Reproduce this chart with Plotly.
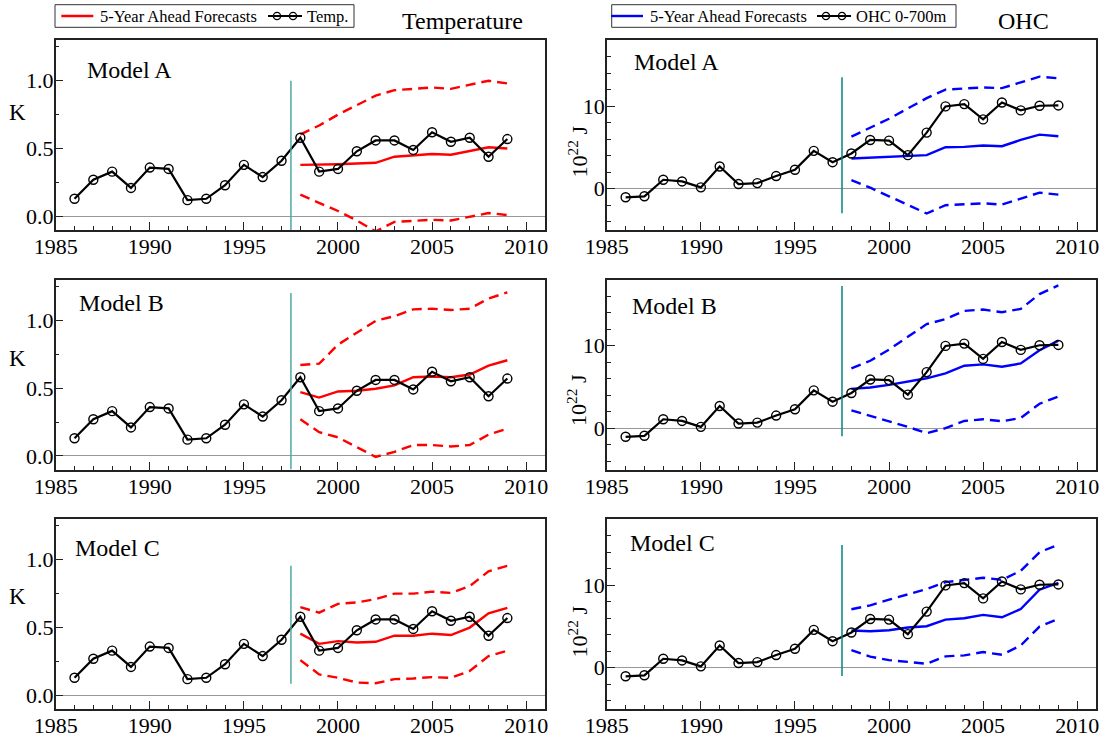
import plotly.graph_objects as go
from plotly.subplots import make_subplots

# ---- data -------------------------------------------------------------
years_obs = list(range(1986, 2010))
years_fc = list(range(1998, 2010))
models = ["Model A", "Model B", "Model C"]

temp_obs = [0.13, 0.27, 0.33, 0.21, 0.36, 0.35, 0.12, 0.13, 0.23, 0.38, 0.29, 0.41,
            0.58, 0.33, 0.35, 0.48, 0.56, 0.56, 0.49, 0.62, 0.55, 0.58, 0.44, 0.57]
ohc_obs = [-1.04, -0.92, 1.08, 0.88, 0.16, 2.69, 0.56, 0.68, 1.53, 2.29, 4.58, 3.21,
           4.26, 5.90, 5.82, 4.06, 6.79, 9.96, 10.24, 8.39, 10.44, 9.48, 10.04, 10.08]

# 5-year ahead temperature forecasts (K): central, upper, lower
temp_mid_a = [0.38, 0.38, 0.385, 0.39, 0.395, 0.44, 0.45, 0.46, 0.455, 0.48, 0.51, 0.50]
temp_up_a = [0.605, 0.67, 0.75, 0.82, 0.89, 0.93, 0.94, 0.95, 0.94, 0.97, 1.00, 0.98]
temp_lo_a = [0.16, 0.10, 0.04, -0.03, -0.11, -0.04, -0.03, -0.025, -0.03, -0.005, 0.025, 0.01]

temp_mid_b = [0.47, 0.43, 0.475, 0.48, 0.495, 0.52, 0.58, 0.585, 0.58, 0.60, 0.665, 0.705]
temp_up_b = [0.67, 0.68, 0.82, 0.905, 0.995, 1.03, 1.08, 1.085, 1.075, 1.085, 1.16, 1.205]
temp_lo_b = [0.27, 0.175, 0.137, 0.066, -0.007, 0.03, 0.08, 0.08, 0.07, 0.08, 0.157, 0.20]

temp_mid_c = [0.455, 0.38, 0.40, 0.39, 0.395, 0.44, 0.44, 0.455, 0.445, 0.50, 0.605, 0.645]
temp_up_c = [0.65, 0.61, 0.675, 0.685, 0.71, 0.75, 0.75, 0.765, 0.755, 0.805, 0.915, 0.955]
temp_lo_c = [0.26, 0.155, 0.13, 0.095, 0.09, 0.12, 0.125, 0.135, 0.13, 0.18, 0.29, 0.33]

# 5-year ahead ocean heat content forecasts (10^22 J)
ohc_mid_a = [3.65, 3.73, 3.82, 3.98, 4.06, 5.02, 5.06, 5.22, 5.14, 5.90, 6.55, 6.35]
ohc_up_a = [6.30, 7.43, 8.47, 9.72, 10.96, 12.00, 12.09, 12.25, 12.17, 12.90, 13.57, 13.37]
ohc_lo_a = [1.04, 0.12, -0.92, -1.93, -3.00, -2.00, -1.93, -1.77, -1.93, -1.24, -0.48, -0.72]

ohc_mid_b = [4.76, 4.92, 5.24, 5.64, 6.04, 6.64, 7.56, 7.72, 7.44, 7.84, 9.44, 10.60]
ohc_up_b = [7.24, 8.16, 9.52, 11.04, 12.60, 13.20, 14.20, 14.36, 14.04, 14.44, 16.24, 17.28]
ohc_lo_b = [2.16, 1.52, 0.80, 0.16, -0.60, 0.00, 0.88, 1.08, 0.84, 1.24, 2.96, 3.84]

ohc_mid_c = [4.50, 4.42, 4.54, 4.86, 5.02, 5.82, 5.98, 6.39, 6.10, 7.10, 9.44, 10.28]
ohc_up_c = [7.07, 7.55, 8.23, 8.92, 9.52, 10.36, 10.60, 10.88, 10.64, 11.73, 13.98, 14.90]
ohc_lo_c = [2.13, 1.33, 0.92, 0.68, 0.48, 1.37, 1.49, 1.89, 1.57, 2.69, 4.98, 5.90]

# start of the forecast period and vertical extent of its marker line
split_year = 1997.5
temp_split_low = [-0.1, -0.1, 0.086]
temp_split_high = [1.0, 1.2, 0.956]
ohc_split_low = [-2.96, -0.96, -1.0]
ohc_split_high = [13.5, 17.2, 14.85]

x_ticks = [1985, 1990, 1995, 2000, 2005, 2010]

# ---- figure -------------------------------------------------------------
W, H = 1105, 738
FONT = "Liberation Serif, Times New Roman, serif"
AX = "#222222"
RED, BLUE = "#ff0000", "#0000ff"

fig = make_subplots(rows=3, cols=2)

temp_sets = [(temp_mid_a, temp_up_a, temp_lo_a),
             (temp_mid_b, temp_up_b, temp_lo_b),
             (temp_mid_c, temp_up_c, temp_lo_c)]
ohc_sets = [(ohc_mid_a, ohc_up_a, ohc_lo_a),
            (ohc_mid_b, ohc_up_b, ohc_lo_b),
            (ohc_mid_c, ohc_up_c, ohc_lo_c)]

panels = [
    dict(col=1, sets=temp_sets, obs=temp_obs, color=RED,
         lows=temp_split_low, highs=temp_split_high, vcolor="#4fa8a8"),
    dict(col=2, sets=ohc_sets, obs=ohc_obs, color=BLUE,
         lows=ohc_split_low, highs=ohc_split_high, vcolor="#008585"),
]

for p in panels:
    for r, (mid, up, lo) in enumerate(p["sets"]):
        row = r + 1
        for vals, dash in [(up, "10px,6px"), (lo, "10px,6px"), (mid, "solid")]:
            fig.add_trace(go.Scatter(
                x=years_fc, y=vals, mode="lines",
                line=dict(color=p["color"], width=2.4, dash=dash),
                showlegend=False, hoverinfo="skip"), row=row, col=p["col"])
        fig.add_trace(go.Scatter(
            x=years_obs, y=p["obs"], mode="lines+markers",
            line=dict(color="black", width=2.2),
            marker=dict(symbol="circle-open", size=9, color="black", line=dict(width=1.4)),
            showlegend=False, hoverinfo="skip"), row=row, col=p["col"])
        fig.add_shape(type="line", x0=split_year, x1=split_year,
                      y0=p["lows"][r], y1=p["highs"][r],
                      line=dict(color=p["vcolor"], width=1.5),
                      row=row, col=p["col"])

# panel placement (pixels -> paper fractions)
x_dom = {1: (55.7, 545.0), 2: (606.8, 1096.0)}
y_dom = {1: (40.0, 230.0), 2: (279.5, 469.5), 3: (519.0, 709.0)}

axis_common = dict(showline=True, linewidth=1.5, linecolor=AX, mirror=True,
                   ticks="inside", tickcolor=AX, tickwidth=1.2, showgrid=False,
                   automargin=False, ticklabelstandoff=-4,
                   tickfont=dict(family=FONT, size=22, color="black"))

for r in range(1, 4):
    for c in (1, 2):
        idx = (r - 1) * 2 + c
        xs = "xaxis" if idx == 1 else f"xaxis{idx}"
        ys = "yaxis" if idx == 1 else f"yaxis{idx}"
        x0, x1 = x_dom[c]
        y0, y1 = y_dom[r]
        fig.layout[xs].update(
            domain=[x0 / W, x1 / W], range=[1985, 2011],
            tickmode="array", tickvals=x_ticks, ticklen=8,
            minor=dict(dtick=1, tick0=1985, ticks="inside", ticklen=4,
                       tickcolor=AX, tickwidth=1.2, showgrid=False),
            zeroline=False, **axis_common)
        if c == 1:
            yopts = dict(range=[-0.1, 1.3], tickmode="linear", tick0=0, dtick=0.5,
                         tickformat=".1f",
                         minor=dict(dtick=0.25, tick0=0, ticks="inside", ticklen=4,
                                    tickcolor=AX, tickwidth=1.2, showgrid=False))
        else:
            yopts = dict(range=[-5, 18], tickmode="linear", tick0=0, dtick=10,
                         minor=dict(dtick=2, tick0=0, ticks="inside", ticklen=4,
                                    tickcolor=AX, tickwidth=1.2, showgrid=False))
        fig.layout[ys].update(
            domain=[1 - y1 / H, 1 - y0 / H], ticklen=8,
            zeroline=True, zerolinecolor="#999999", zerolinewidth=1.2,
            **yopts, **axis_common)

annotations = []
shapes = []


def px_x(v):
    return v / W


def px_y(v):
    return 1 - v / H


def text_at(txt, xpx, ypx, size, xanchor="left", angle=0):
    annotations.append(dict(text=txt, x=px_x(xpx), y=px_y(ypx), xref="paper", yref="paper",
                            xanchor=xanchor, yanchor="middle", showarrow=False,
                            textangle=angle, font=dict(family=FONT, size=size, color="black")))


# model names inside each panel
left_label_pos = [(84.5, 70.0), (77.4, 303.3), (73.2, 548.3)]
right_label_pos = [(632.4, 61.7), (629.6, 305.7), (627.9, 542.7)]
for name, (lx, ly), (rx, ry) in zip(models, left_label_pos, right_label_pos):
    text_at(name, lx, ly, 24)
    text_at(name, rx, ry, 24)

# unit labels
for ky in (112.5, 358.0, 596.0):
    text_at("K", 17.6, ky, 23, xanchor="center")
for jy in (151.5, 400.0, 631.5):
    text_at("10<sup>22</sup> J", 577.0, jy, 22, xanchor="center", angle=-90)

# column headings
text_at("Temperature", 462.0, 20.7, 24, xanchor="center")
text_at("OHC", 1023.0, 20.7, 24, xanchor="center")


# boxed key above each column
def key_box(x0, x1, color, fc_text_x, obs_x0, obs_label):
    y0, y1, yc = 4.7, 27.3, 16.0
    shapes.append(dict(type="rect", xref="paper", yref="paper",
                       x0=px_x(x0), x1=px_x(x1), y0=px_y(y1), y1=px_y(y0),
                       line=dict(color="#333333", width=1), fillcolor="white"))
    shapes.append(dict(type="line", xref="paper", yref="paper",
                       x0=px_x(fc_text_x - 38), x1=px_x(fc_text_x - 6), y0=px_y(yc), y1=px_y(yc),
                       line=dict(color=color, width=2.4)))
    text_at("5-Year Ahead Forecasts", fc_text_x - 1, yc, 16.5)
    shapes.append(dict(type="line", xref="paper", yref="paper",
                       x0=px_x(obs_x0), x1=px_x(obs_x0 + 34), y0=px_y(yc), y1=px_y(yc),
                       line=dict(color="black", width=2)))
    for cx in (obs_x0 + 9, obs_x0 + 25):
        shapes.append(dict(type="circle", xref="paper", yref="paper",
                           x0=px_x(cx - 3.6), x1=px_x(cx + 3.6),
                           y0=px_y(yc + 3.6), y1=px_y(yc - 3.6),
                           line=dict(color="black", width=1.3), fillcolor="rgba(0,0,0,0)"))
    text_at(obs_label, obs_x0 + 37, yc, 16.5)


key_box(55.0, 354.0, RED, 99.3, 268.0, "Temp.")
key_box(611.7, 956.0, BLUE, 649.0, 817.0, "OHC 0-700m")

fig.update_layout(
    width=W, height=H,
    margin=dict(l=0, r=0, t=0, b=0, autoexpand=False),
    paper_bgcolor="white", plot_bgcolor="white",
    font=dict(family=FONT, color="black"),
    annotations=annotations,
    showlegend=False,
)
for s in shapes:
    fig.add_shape(**s)

fig.write_html("out.html")
